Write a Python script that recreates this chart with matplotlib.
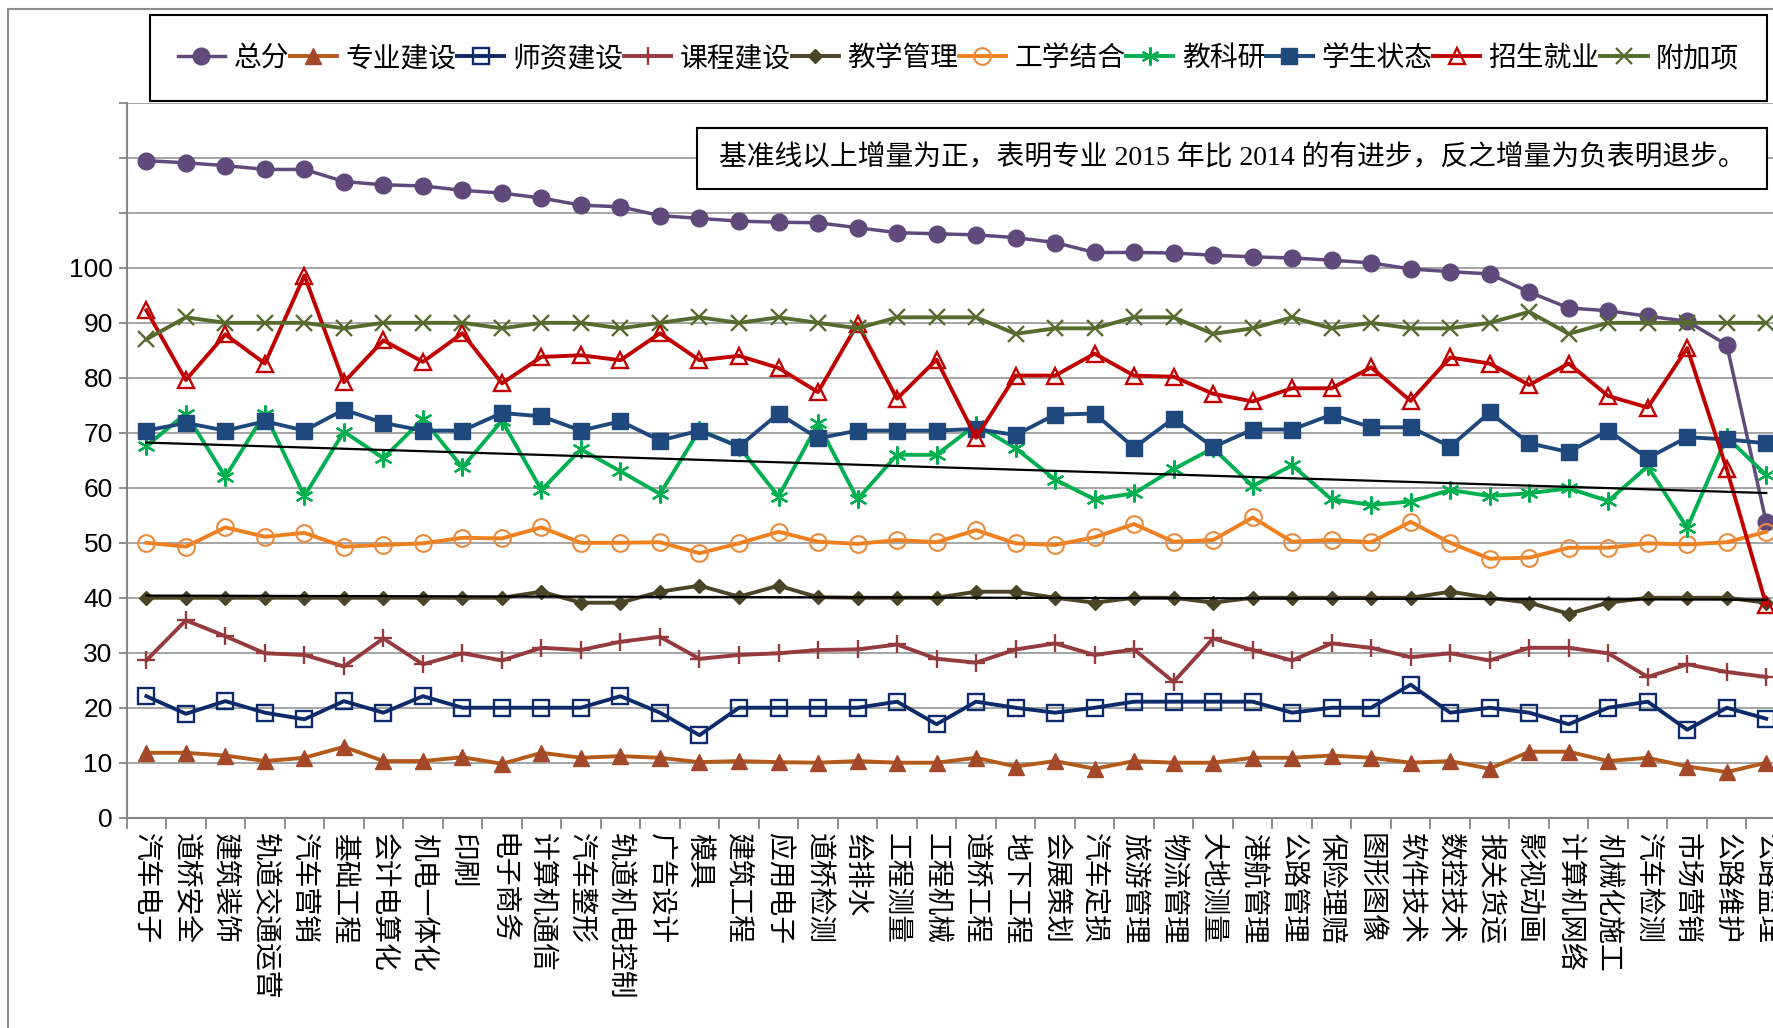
import numpy as np
import matplotlib
matplotlib.use('Agg')
import matplotlib.pyplot as plt
from matplotlib.patches import Rectangle

plt.rcParams['font.family'] = ['Noto Sans CJK SC', 'DejaVu Sans']

categories = ['汽车电子', '道桥安全', '建筑装饰', '轨道交通运营', '汽车营销', '基础工程', '会计电算化',
              '机电一体化', '印刷', '电子商务', '计算机通信', '汽车整形', '轨道机电控制', '广告设计',
              '模具', '建筑工程', '应用电子', '道桥检测', '给排水', '工程测量', '工程机械', '道桥工程',
              '地下工程', '会展策划', '汽车定损', '旅游管理', '物流管理', '大地测量', '港航管理',
              '公路管理', '保险理赔', '图形图像', '软件技术', '数控技术', '报关货运', '影视动画',
              '计算机网络', '机械化施工', '汽车检测', '市场营销', '公路维护', '公路监理']

total = [119.5, 119.1, 118.6, 117.9, 117.9, 115.7, 115.1, 114.9, 114.1, 113.6, 112.7, 111.4, 111.1, 109.5,
         109.0, 108.5, 108.3, 108.2, 107.3, 106.4, 106.2, 106.0, 105.5, 104.6, 102.8, 102.8, 102.7, 102.3,
         102.0, 101.8, 101.4, 100.9, 99.8, 99.3, 98.9, 95.6, 92.7, 92.2, 91.2, 90.3, 86.0, 53.7]
major = [11.8, 11.8, 11.3, 10.3, 10.9, 12.9, 10.3, 10.3, 11.0, 9.8, 11.8, 10.9, 11.2, 10.9,
         10.1, 10.3, 10.1, 10.0, 10.3, 10.0, 10.0, 10.9, 9.3, 10.3, 8.9, 10.3, 10.0, 10.0,
         10.9, 10.9, 11.3, 10.9, 10.0, 10.3, 8.9, 12.0, 12.0, 10.3, 10.9, 9.3, 8.3, 10.0]
teachers = [22.1, 18.9, 21.2, 19.1, 17.9, 21.2, 19.1, 22.1, 20, 20, 20, 20, 22.1, 19.1,
            15.0, 20, 20, 20, 20, 21.1, 17.0, 21.1, 20, 19.1, 20, 21.1, 21.1, 21.1,
            21.1, 19.1, 20, 20, 24.2, 19.1, 20, 19.1, 17.0, 20, 21.1, 16.0, 20, 18.0]
courses = [28.6, 35.9, 33.0, 29.9, 29.6, 27.5, 32.6, 27.9, 29.9, 28.6, 30.9, 30.5, 32.0, 32.9,
           28.9, 29.6, 29.9, 30.5, 30.6, 31.5, 28.9, 28.2, 30.6, 31.7, 29.6, 30.6, 24.7, 32.6,
           30.5, 28.6, 31.7, 30.9, 29.2, 29.9, 28.6, 30.9, 30.9, 29.9, 25.6, 27.9, 26.5, 25.6]
teaching = [40, 40, 40, 40, 40, 40, 40, 40, 40, 40, 41.1, 39.1, 39.1, 41.1,
            42.2, 40.2, 42.2, 40.1, 40, 40, 40, 41.1, 41.1, 40, 39.1, 40, 40, 39.1,
            40, 40, 40, 40, 40, 41.1, 40, 39.1, 37.1, 39.1, 40, 40, 40, 39.1]
work_study = [50.0, 49.3, 52.8, 51.1, 51.8, 49.3, 49.6, 49.9, 50.9, 50.8, 52.8, 50.0, 50.0, 50.1,
              48.1, 49.9, 52.0, 50.2, 49.8, 50.5, 50.1, 52.3, 49.9, 49.6, 51.0, 53.4, 50.2, 50.5,
              54.6, 50.2, 50.5, 50.1, 53.8, 50.0, 47.1, 47.3, 49.1, 49.1, 49.9, 49.7, 50.1, 52.0]
research = [67.6, 73.5, 62.0, 73.5, 58.5, 70.2, 65.4, 72.5, 63.7, 72.2, 59.6, 67.0, 63.0, 58.9,
            70.5, 67.5, 58.4, 71.7, 57.9, 66.0, 66.0, 71.5, 67.2, 61.5, 57.9, 59.0, 63.4, 67.2,
            60.3, 64.1, 57.9, 56.9, 57.5, 59.6, 58.5, 59.0, 59.9, 57.6, 63.9, 52.7, 69.2, 62.3]
students = [70.4, 71.8, 70.4, 72.1, 70.4, 74.2, 71.8, 70.4, 70.4, 73.6, 73.0, 70.4, 72.1, 68.6,
            70.4, 67.5, 73.5, 69.0, 70.4, 70.4, 70.4, 70.7, 69.6, 73.3, 73.5, 67.3, 72.6, 67.4,
            70.6, 70.6, 73.3, 71.0, 71.0, 67.5, 73.7, 68.1, 66.5, 70.4, 65.4, 69.2, 68.8, 68.1]
enrol = [92.3, 79.6, 87.9, 82.6, 98.6, 79.2, 86.8, 82.9, 88.1, 79.0, 83.8, 84.1, 83.2, 88.1,
         83.2, 84.0, 81.8, 77.4, 89.8, 76.2, 83.3, 69.1, 80.4, 80.4, 84.4, 80.4, 80.2, 77.1,
         75.7, 78.1, 78.1, 81.9, 75.8, 83.7, 82.6, 78.7, 82.6, 76.7, 74.6, 85.4, 63.4, 38.7]
extra = [87, 91, 90, 90, 90, 89, 90, 90, 90, 89, 90, 90, 89, 90,
         91, 90, 91, 90, 89, 91, 91, 91, 88, 89, 89, 91, 91, 88,
         89, 91, 89, 90, 89, 89, 90, 92, 88, 90, 90, 90, 90, 90]

note = '基准线以上增量为正，表明专业 2015 年比 2014 的有进步，反之增量为负表明退步。'

W, H = 1773, 1028
fig = plt.figure(figsize=(W / 100, H / 100), dpi=100)
ax = fig.add_axes([126.6 / W, 1 - 817.7 / H, (1786 - 126.6) / W, (817.7 - 102.9) / H])

x = np.arange(len(categories))
lw = 2.8
ax.plot(x, total, label='总分', color='#604A7B', lw=2.5, marker='o', ms=12)
ax.plot(x, major, label='专业建设', color='#B45A1A', lw=lw, marker='^', ms=11,
        mfc='#A4482A', mec='#A4482A')
ax.plot(x, teachers, label='师资建设', color='#0D2A6A', lw=lw, marker='s', ms=11,
        mfc='none', mec='#0D2A6A', mew=1.7)
ax.plot(x, courses, label='课程建设', color='#963B3D', lw=lw, marker='+', ms=13, mew=1.7)
ax.plot(x, teaching, label='教学管理', color='#4B4528', lw=lw, marker='D', ms=7)
ax.plot(x, work_study, label='工学结合', color='#F07F1E', lw=lw, marker='o', ms=12,
        mfc='none', mec='#E98A3C', mew=1.5)
ax.plot(x, research, label='教科研', color='#00B050', lw=lw, marker=(6, 2, 0), ms=13, mew=1.6)
ax.plot(x, students, label='学生状态', color='#1F497D', lw=lw, marker='s', ms=11)
ax.plot(x, enrol, label='招生就业', color='#C00000', lw=lw, marker='^', ms=12,
        mfc='none', mec='#C00000', mew=1.7)
ax.plot(x, extra, label='附加项', color='#566B2D', lw=lw, marker='x', ms=11, mew=1.7)

# linear trend lines
for series in (research, teaching):
    k, b = np.polyfit(x, series, 1)
    ax.plot([x[0], x[-1]], [k * x[0] + b, k * x[-1] + b], color='black', lw=1.6)

ax.set_xlim(-0.5, len(categories) - 0.5)
ax.set_ylim(0, 130)
yt = list(range(0, 131, 10))
ax.set_yticks(yt)
ax.set_yticklabels([str(v) if v <= 100 else '' for v in yt],
                   fontsize=19, family=['Liberation Sans', 'DejaVu Sans'])
ax.tick_params(axis='y', length=6, width=1.3, color='#868686', pad=4)

ax.set_xticks(x)
ax.set_xticklabels(categories, rotation=270, ha='center', va='top', fontsize=20)
ax.set_xticks(np.arange(-0.5, len(categories), 1), minor=True)
ax.tick_params(axis='x', which='major', length=0, pad=11)
ax.tick_params(axis='x', which='minor', length=8, width=1.3, color='#868686')

ax.yaxis.grid(True, color='#A5A5A5', lw=1.4)
ax.set_axisbelow(True)
for s in ('top', 'right'):
    ax.spines[s].set_visible(False)
for s in ('left', 'bottom'):
    ax.spines[s].set_color('#868686')
    ax.spines[s].set_linewidth(1.5)

# outer chart border
fig.add_artist(Rectangle((8 / W, -0.5), 1.5, 1.5 - 9 / H, transform=fig.transFigure,
                         fill=False, edgecolor='#8C8C8C', lw=1.5))

handles, labels = ax.get_legend_handles_labels()
leg = fig.legend(handles[:10], labels[:10], loc='center', ncol=10, mode='expand',
                 bbox_to_anchor=(150 / W, 1 - 96 / H, 1617 / W, 76 / H), borderaxespad=0,
                 fontsize=20, frameon=True, fancybox=False, edgecolor='black',
                 handlelength=1.7, handletextpad=0.3, columnspacing=0.2, borderpad=1.0)
leg.get_frame().set_linewidth(1.5)
leg.get_frame().set_alpha(1)

fig.add_artist(Rectangle((696.5 / W, 1 - 189 / H), 1070.5 / W, 61 / H, transform=fig.transFigure,
                         facecolor='white', edgecolor='black', lw=1.5, zorder=2))
fig.text(1232 / W, 1 - 158.5 / H, note, ha='center', va='center', fontsize=20,
         family=['Liberation Serif', 'Noto Sans CJK SC'], zorder=3)

fig.savefig('out.png', dpi=100)
